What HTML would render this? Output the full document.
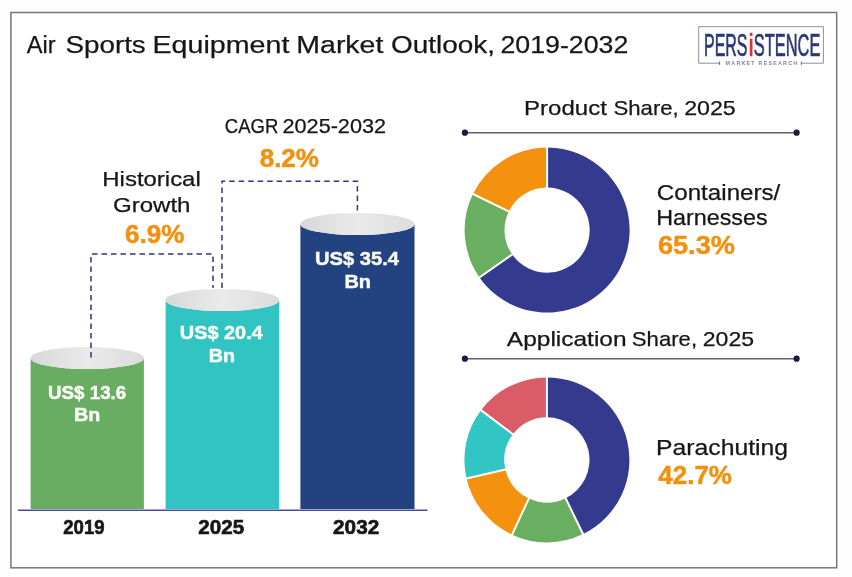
<!DOCTYPE html>
<html><head><meta charset="utf-8"><title>Air Sports Equipment Market Outlook</title>
<style>
html,body{margin:0;padding:0;background:#fefefe;}
body{width:852px;height:577px;overflow:hidden;font-family:"Liberation Sans",sans-serif;}
svg{display:block}
text{font-family:"Liberation Sans",sans-serif;}
.t{fill:#161616;stroke:#161616;stroke-width:0.25px}
.b{font-weight:bold;stroke:#161616;stroke-width:0.6px}
.o{fill:#f2910f;font-weight:bold;stroke:#f2910f;stroke-width:0.5px}
.lg{fill:#2a3877;stroke:#2a3877;stroke-width:0.7px}
.lr{fill:#e0312c;stroke:#e0312c;stroke-width:0.7px}
.w{fill:#fdfdf8;font-weight:bold;stroke:#fdfdf8;stroke-width:0.45px}
</style></head><body>
<svg width="852" height="577" viewBox="0 0 852 577">
<defs>
<linearGradient id="cap" x1="0" y1="0" x2="1" y2="0">
<stop offset="0" stop-color="#d8d8d8"/><stop offset="0.5" stop-color="#eaeaea"/><stop offset="1" stop-color="#dcdcdc"/>
</linearGradient>
</defs>
<rect x="0" y="0" width="852" height="577" fill="#fefefe"/>
<rect x="10.9" y="12.5" width="825.8" height="555.3" fill="#ffffff" stroke="#767676" stroke-width="1.5"/>
<text class="t" x="26.73" y="53.4" font-size="24.7" textLength="28.86" lengthAdjust="spacingAndGlyphs">Air</text>
<text class="t" x="65.48" y="53.4" font-size="24.7" textLength="80.28" lengthAdjust="spacingAndGlyphs">Sports</text>
<text class="t" x="152.54" y="53.4" font-size="24.7" textLength="136.81" lengthAdjust="spacingAndGlyphs">Equipment</text>
<text class="t" x="296.35" y="53.4" font-size="24.7" textLength="87.01" lengthAdjust="spacingAndGlyphs">Market</text>
<text class="t" x="391.07" y="53.4" font-size="24.7" textLength="104.00" lengthAdjust="spacingAndGlyphs">Outlook,</text>
<text class="t" x="500.49" y="53.4" font-size="24.7" textLength="127.79" lengthAdjust="spacingAndGlyphs">2019-2032</text>

<!-- logo -->
<g>
<path d="M719.6,63.2 H698.7 V26.7 H823.4 V63.2 H801.3" fill="none" stroke="#8a8ea8" stroke-width="1"/>
<path d="M719.6,61.4 V65 M801.3,61.4 V65" stroke="#5a6080" stroke-width="0.9"/>
<text class="lg" x="704.07" y="55.6" font-size="30.9" textLength="43.45" lengthAdjust="spacingAndGlyphs">PERS</text>
<text class="lr" x="748.53" y="55.6" font-size="30.9" textLength="5.18" lengthAdjust="spacingAndGlyphs">i</text>
<text class="lg" x="753.81" y="55.6" font-size="30.9" textLength="66.52" lengthAdjust="spacingAndGlyphs">STENCE</text>
<text x="725.6" y="65" font-size="5.4" textLength="71.6" lengthAdjust="spacing" fill="#80849c" font-weight="bold">MARKET RESEARCH</text>
</g>

<!-- bars -->
<path d="M30.6,358 L30.6,509 L143.9,509 L143.9,358 A56.65,11 0 0 1 30.6,358 Z" fill="#69ad63"/>
<ellipse cx="87.25" cy="358" rx="56.65" ry="11" fill="url(#cap)"/>

<path d="M165.6,300 L165.6,509 L279.2,509 L279.2,300 A56.8,11 0 0 1 165.6,300 Z" fill="#30c5c3"/>
<ellipse cx="222.39999999999998" cy="300" rx="56.8" ry="11" fill="url(#cap)"/>

<path d="M300.4,224 L300.4,509 L414.5,509 L414.5,224 A57.05,11 0 0 1 300.4,224 Z" fill="#234280"/>
<ellipse cx="357.45" cy="224" rx="57.05" ry="11" fill="url(#cap)"/>

<path d="M18,510.2 H427.5" stroke="#4a4aa0" stroke-width="1.6"/>

<!-- dashed connectors -->
<g fill="none" stroke="#33337f" stroke-width="1.5" stroke-dasharray="5.5 4">
<path d="M91,357.5 V254 H213 V288"/>
<path d="M222,288 V181.2 H357.4 V212"/>
</g>
<text class="w" x="48.10" y="398.6" font-size="18.6" textLength="78.12" lengthAdjust="spacingAndGlyphs">US$ 13.6</text>
<text class="w" x="74.04" y="421.4" font-size="18.6" textLength="26.27" lengthAdjust="spacingAndGlyphs">Bn</text>
<text class="w" x="179.83" y="339" font-size="18.6" textLength="82.93" lengthAdjust="spacingAndGlyphs">US$ 20.4</text>
<text class="w" x="208.74" y="361.6" font-size="18.6" textLength="26.27" lengthAdjust="spacingAndGlyphs">Bn</text>
<text class="w" x="315.02" y="265" font-size="18.6" textLength="84.05" lengthAdjust="spacingAndGlyphs">US$ 35.4</text>
<text class="w" x="344.43" y="287.5" font-size="18.6" textLength="26.61" lengthAdjust="spacingAndGlyphs">Bn</text>

<text class="t b" x="63.25" y="533.8" font-size="19.6" textLength="41.29" lengthAdjust="spacingAndGlyphs">2019</text>
<text class="t b" x="198.28" y="533.8" font-size="19.6" textLength="45.83" lengthAdjust="spacingAndGlyphs">2025</text>
<text class="t b" x="333.07" y="533.8" font-size="19.6" textLength="46.15" lengthAdjust="spacingAndGlyphs">2032</text>

<text class="t" x="102.31" y="186.3" font-size="20.2" textLength="98.47" lengthAdjust="spacingAndGlyphs">Historical</text>
<text class="t" x="112.92" y="212" font-size="20.2" textLength="77.60" lengthAdjust="spacingAndGlyphs">Growth</text>
<text class="o" x="125.04" y="242.8" font-size="25.6" textLength="59.24" lengthAdjust="spacingAndGlyphs">6.9%</text>
<text class="t" x="224.80" y="133.3" font-size="19.8" textLength="53.49" lengthAdjust="spacingAndGlyphs">CAGR</text>
<text class="t" x="282.54" y="133.3" font-size="19.8" textLength="103.47" lengthAdjust="spacingAndGlyphs">2025-2032</text>
<text class="o" x="259.67" y="167" font-size="25.6" textLength="59.31" lengthAdjust="spacingAndGlyphs">8.2%</text>

<!-- right -->
<path d="M465,132.7 H796.6" stroke="#5f6070" stroke-width="1.5"/>
<circle cx="464.9" cy="132.7" r="3.1" fill="#1a1a45"/><circle cx="796.6" cy="132.7" r="3.1" fill="#1a1a45"/>
<path d="M547.10,147.60 A82.5,82.5 0 1 1 479.52,277.42 L512.20,254.53 A42.6,42.6 0 1 0 547.10,187.50 Z" fill="#343b8f"/>
<path d="M479.52,277.42 A82.5,82.5 0 0 1 472.95,193.93 L508.81,211.43 A42.6,42.6 0 0 0 512.20,254.53 Z" fill="#6aae62"/>
<path d="M472.95,193.93 A82.5,82.5 0 0 1 547.10,147.60 L547.10,187.50 A42.6,42.6 0 0 0 508.81,211.43 Z" fill="#f4920f"/>
<line x1="547.10" y1="188.50" x2="547.10" y2="146.60" stroke="#fff" stroke-width="2"/>
<line x1="513.02" y1="253.96" x2="478.70" y2="277.99" stroke="#fff" stroke-width="2"/>
<line x1="509.71" y1="211.86" x2="472.05" y2="193.50" stroke="#fff" stroke-width="2"/>

<path d="M465,358.7 H796.6" stroke="#5f6070" stroke-width="1.5"/>
<circle cx="464.9" cy="358.7" r="3.1" fill="#1a1a45"/><circle cx="796.6" cy="358.7" r="3.1" fill="#1a1a45"/>
<path d="M546.90,377.40 A82.5,82.5 0 0 1 583.07,534.05 L565.57,498.19 A42.6,42.6 0 0 0 546.90,417.30 Z" fill="#343b8f"/>
<path d="M583.07,534.05 A82.5,82.5 0 0 1 512.03,534.67 L528.90,498.51 A42.6,42.6 0 0 0 565.57,498.19 Z" fill="#6aae62"/>
<path d="M512.03,534.67 A82.5,82.5 0 0 1 466.51,478.46 L505.39,469.48 A42.6,42.6 0 0 0 528.90,498.51 Z" fill="#f4920f"/>
<path d="M466.51,478.46 A82.5,82.5 0 0 1 481.01,410.25 L512.88,434.26 A42.6,42.6 0 0 0 505.39,469.48 Z" fill="#31c5c4"/>
<path d="M481.01,410.25 A82.5,82.5 0 0 1 546.90,377.40 L546.90,417.30 A42.6,42.6 0 0 0 512.88,434.26 Z" fill="#d95c67"/>
<line x1="546.90" y1="418.30" x2="546.90" y2="376.40" stroke="#fff" stroke-width="2"/>
<line x1="565.14" y1="497.29" x2="583.50" y2="534.95" stroke="#fff" stroke-width="2"/>
<line x1="529.32" y1="497.60" x2="511.61" y2="535.58" stroke="#fff" stroke-width="2"/>
<line x1="506.37" y1="469.26" x2="465.54" y2="478.68" stroke="#fff" stroke-width="2"/>
<line x1="513.68" y1="434.86" x2="480.21" y2="409.65" stroke="#fff" stroke-width="2"/>

<text class="t" x="524.10" y="115.2" font-size="20.4" textLength="82.72" lengthAdjust="spacingAndGlyphs">Product</text>
<text class="t" x="613.53" y="115.2" font-size="20.4" textLength="65.26" lengthAdjust="spacingAndGlyphs">Share,</text>
<text class="t" x="684.16" y="115.2" font-size="20.4" textLength="51.63" lengthAdjust="spacingAndGlyphs">2025</text>
<text class="t" x="656.82" y="200.2" font-size="21.2" textLength="123.53" lengthAdjust="spacingAndGlyphs">Containers/</text>
<text class="t" x="656.16" y="225.2" font-size="21.2" textLength="111.53" lengthAdjust="spacingAndGlyphs">Harnesses</text>
<text class="o" x="657.90" y="254" font-size="25.6" textLength="77.04" lengthAdjust="spacingAndGlyphs">65.3%</text>
<text class="t" x="506.82" y="346.4" font-size="20.4" textLength="119.80" lengthAdjust="spacingAndGlyphs">Application</text>
<text class="t" x="631.83" y="346.4" font-size="20.4" textLength="65.26" lengthAdjust="spacingAndGlyphs">Share,</text>
<text class="t" x="702.77" y="346.4" font-size="20.4" textLength="51.32" lengthAdjust="spacingAndGlyphs">2025</text>
<text class="t" x="656.05" y="454.8" font-size="21.2" textLength="131.99" lengthAdjust="spacingAndGlyphs">Parachuting</text>
<text class="o" x="658.36" y="483.5" font-size="25.6" textLength="73.55" lengthAdjust="spacingAndGlyphs">42.7%</text>

</svg>
</body></html>
